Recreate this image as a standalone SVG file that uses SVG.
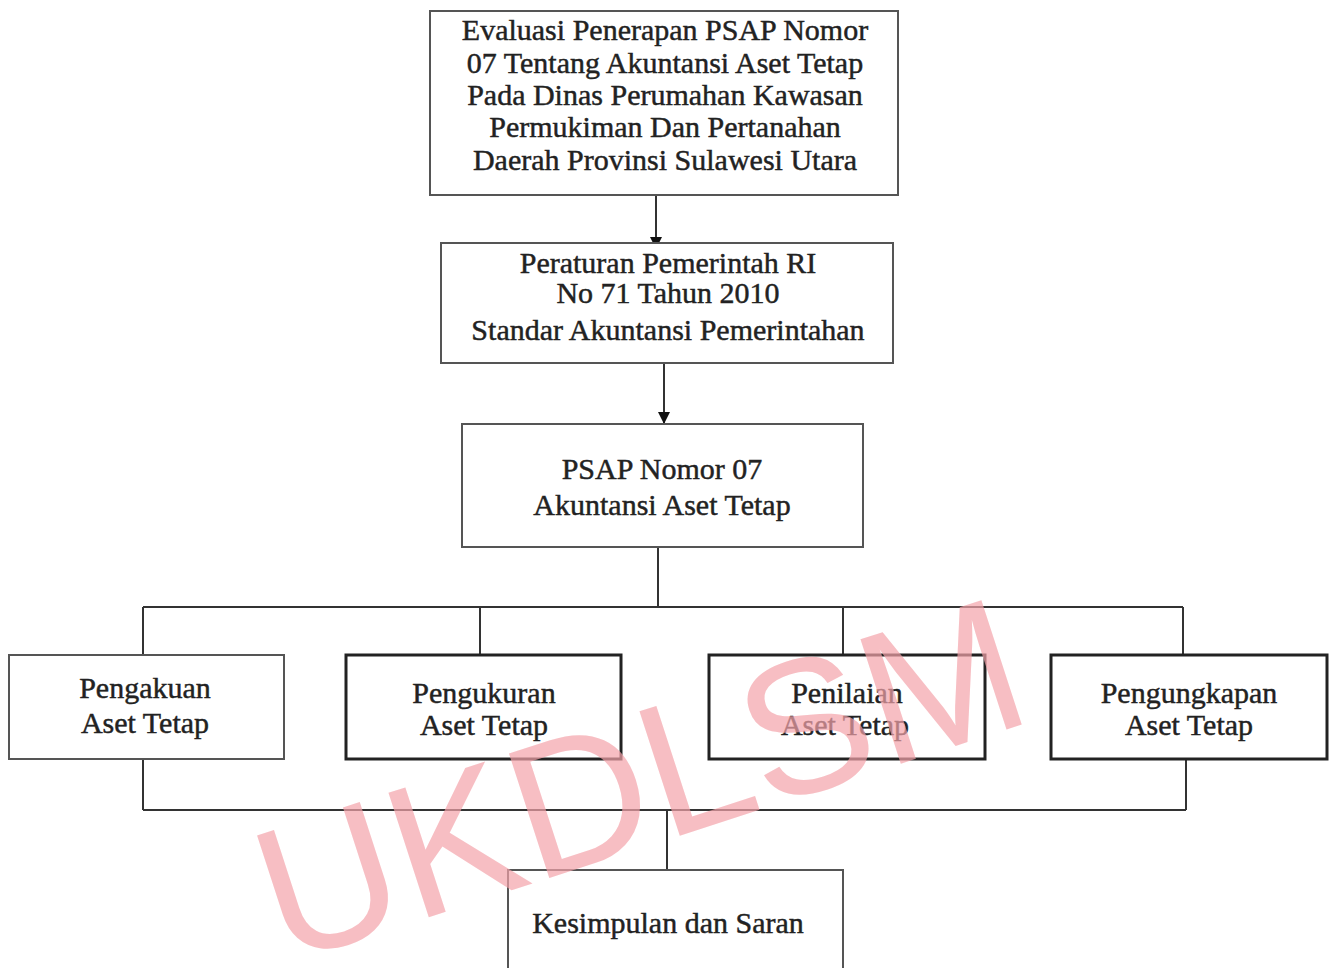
<svg xmlns="http://www.w3.org/2000/svg" width="1332" height="968" viewBox="0 0 1332 968">
<style>
.t{font-family:"Liberation Serif","Times New Roman",serif;font-size:30px;fill:#222;stroke:#222;stroke-width:0.45;text-anchor:middle}
.box{fill:#fff;stroke:#555;stroke-width:2}
.bold{fill:#fff;stroke:#222;stroke-width:3}
.ln{fill:none;stroke:#333;stroke-width:2}
.wm{font-family:"Liberation Sans",Arial,sans-serif;font-size:190px;fill:#f4a3aa;fill-opacity:0.7;text-anchor:middle}
</style>
<defs>
<marker id="arr" viewBox="0 0 12 12" refX="12" refY="6" markerWidth="12" markerHeight="12" markerUnits="userSpaceOnUse" orient="auto">
<path d="M0,0 L12,6 L0,12 Z" fill="#111"/>
</marker>
</defs>
<rect width="1332" height="968" fill="#fff"/>
<g id="connectors">
<line class="ln" x1="656" y1="195" x2="656" y2="249" marker-end="url(#arr)"/>
<line class="ln" x1="664" y1="364" x2="664" y2="424" marker-end="url(#arr)"/>
<line class="ln" x1="658" y1="547" x2="658" y2="607"/>
<line class="ln" x1="143" y1="607" x2="1183" y2="607"/>
<line class="ln" x1="143" y1="607" x2="143" y2="655"/>
<line class="ln" x1="480" y1="607" x2="480" y2="655"/>
<line class="ln" x1="843" y1="607" x2="843" y2="655"/>
<line class="ln" x1="1183" y1="607" x2="1183" y2="655"/>
<line class="ln" x1="143" y1="759" x2="143" y2="810"/>
<line class="ln" x1="1186" y1="759" x2="1186" y2="810"/>
<line class="ln" x1="143" y1="810" x2="1186" y2="810"/>
<line class="ln" x1="667" y1="810" x2="667" y2="870"/>
</g>
<g id="evaluasi">
<rect class="box" x="430" y="11" width="468" height="184"/>
<text class="t" x="665" y="40">Evaluasi Penerapan PSAP Nomor</text>
<text class="t" x="665" y="73">07 Tentang Akuntansi Aset Tetap</text>
<text class="t" x="665" y="105">Pada Dinas Perumahan Kawasan</text>
<text class="t" x="665" y="137">Permukiman Dan Pertanahan</text>
<text class="t" x="665" y="170">Daerah Provinsi Sulawesi Utara</text>
</g>
<g id="peraturan">
<rect class="box" x="441" y="243" width="452" height="120"/>
<text class="t" x="668" y="273">Peraturan Pemerintah RI</text>
<text class="t" x="668" y="303">No 71 Tahun 2010</text>
<text class="t" x="668" y="340">Standar Akuntansi Pemerintahan</text>
</g>
<g id="psap">
<rect class="box" x="462" y="424" width="401" height="123"/>
<text class="t" x="662" y="479">PSAP Nomor 07</text>
<text class="t" x="662" y="515">Akuntansi Aset Tetap</text>
</g>
<g id="pengakuan">
<rect class="box" x="9" y="655" width="275" height="104"/>
<text class="t" x="145" y="698">Pengakuan</text>
<text class="t" x="145" y="733">Aset Tetap</text>
</g>
<g id="pengukuran">
<rect class="bold" x="346" y="655" width="275" height="104"/>
<text class="t" x="484" y="703">Pengukuran</text>
<text class="t" x="484" y="735">Aset Tetap</text>
</g>
<g id="penilaian">
<rect class="bold" x="709" y="655" width="276" height="104"/>
<text class="t" x="847" y="703">Penilaian</text>
<text class="t" x="845" y="735">Aset Tetap</text>
</g>
<g id="pengungkapan">
<rect class="bold" x="1051" y="655" width="276" height="104"/>
<text class="t" x="1189" y="703">Pengungkapan</text>
<text class="t" x="1189" y="735">Aset Tetap</text>
</g>
<g id="kesimpulan">
<rect class="box" x="508" y="870" width="335" height="110"/>
<text class="t" x="668" y="933">Kesimpulan dan Saran</text>
</g>
<g id="watermark">
<text class="wm" transform="translate(660,842) rotate(-18)" x="0" y="0">UKDLSM</text>
</g>
</svg>
